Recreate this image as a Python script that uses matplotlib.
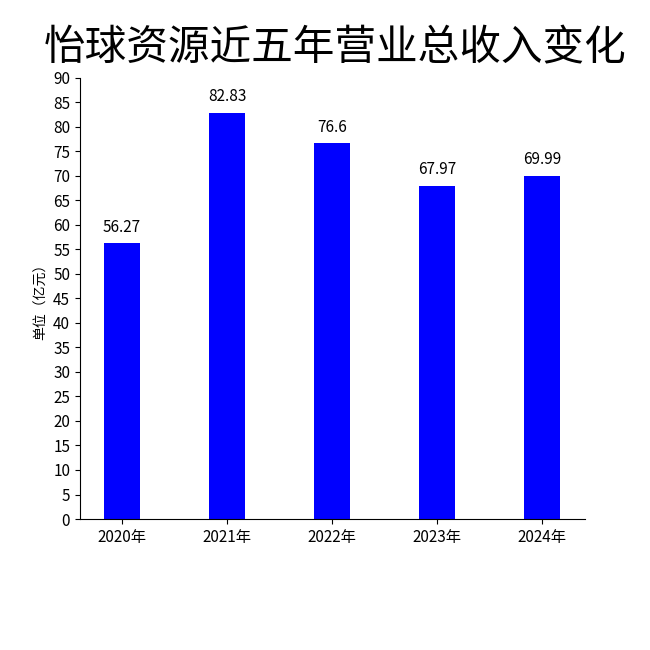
import matplotlib
matplotlib.use("Agg")
import matplotlib.pyplot as plt

years = ["2020年", "2021年", "2022年", "2023年", "2024年"]
revenue = [56.27, 82.83, 76.6, 67.97, 69.99]
labels = ["56.27", "82.83", "76.6", "67.97", "69.99"]
yticks = list(range(0, 91, 5))

plt.rcParams["font.family"] = ["Noto Sans CJK SC"]
fig = plt.figure(figsize=(6.5, 6.5), dpi=100)
ax = fig.add_axes([0.123, 0.2015, 0.777, 0.679])
x = range(len(years))
ax.bar(x, revenue, width=0.35, color="#0000ff")
for xi, v, t in zip(x, revenue, labels):
    ax.text(xi, v + 1.5, t, ha="center", va="bottom", fontsize=11)
ax.set_xlim(-0.4, 4.41)
ax.set_ylim(0, 90)
ax.set_yticks(yticks)
ax.set_xticks(list(x))
ax.set_xticklabels(years, fontsize=11)
ax.tick_params(axis="y", labelsize=11)
ax.spines["top"].set_visible(False)
ax.spines["right"].set_visible(False)
ax.set_ylabel("单位（亿元）", fontsize=10)
fig.text(0.515, 0.925, "怡球资源近五年营业总收入变化", ha="center", va="center", fontsize=30)
fig.savefig("out.png", dpi=100)
